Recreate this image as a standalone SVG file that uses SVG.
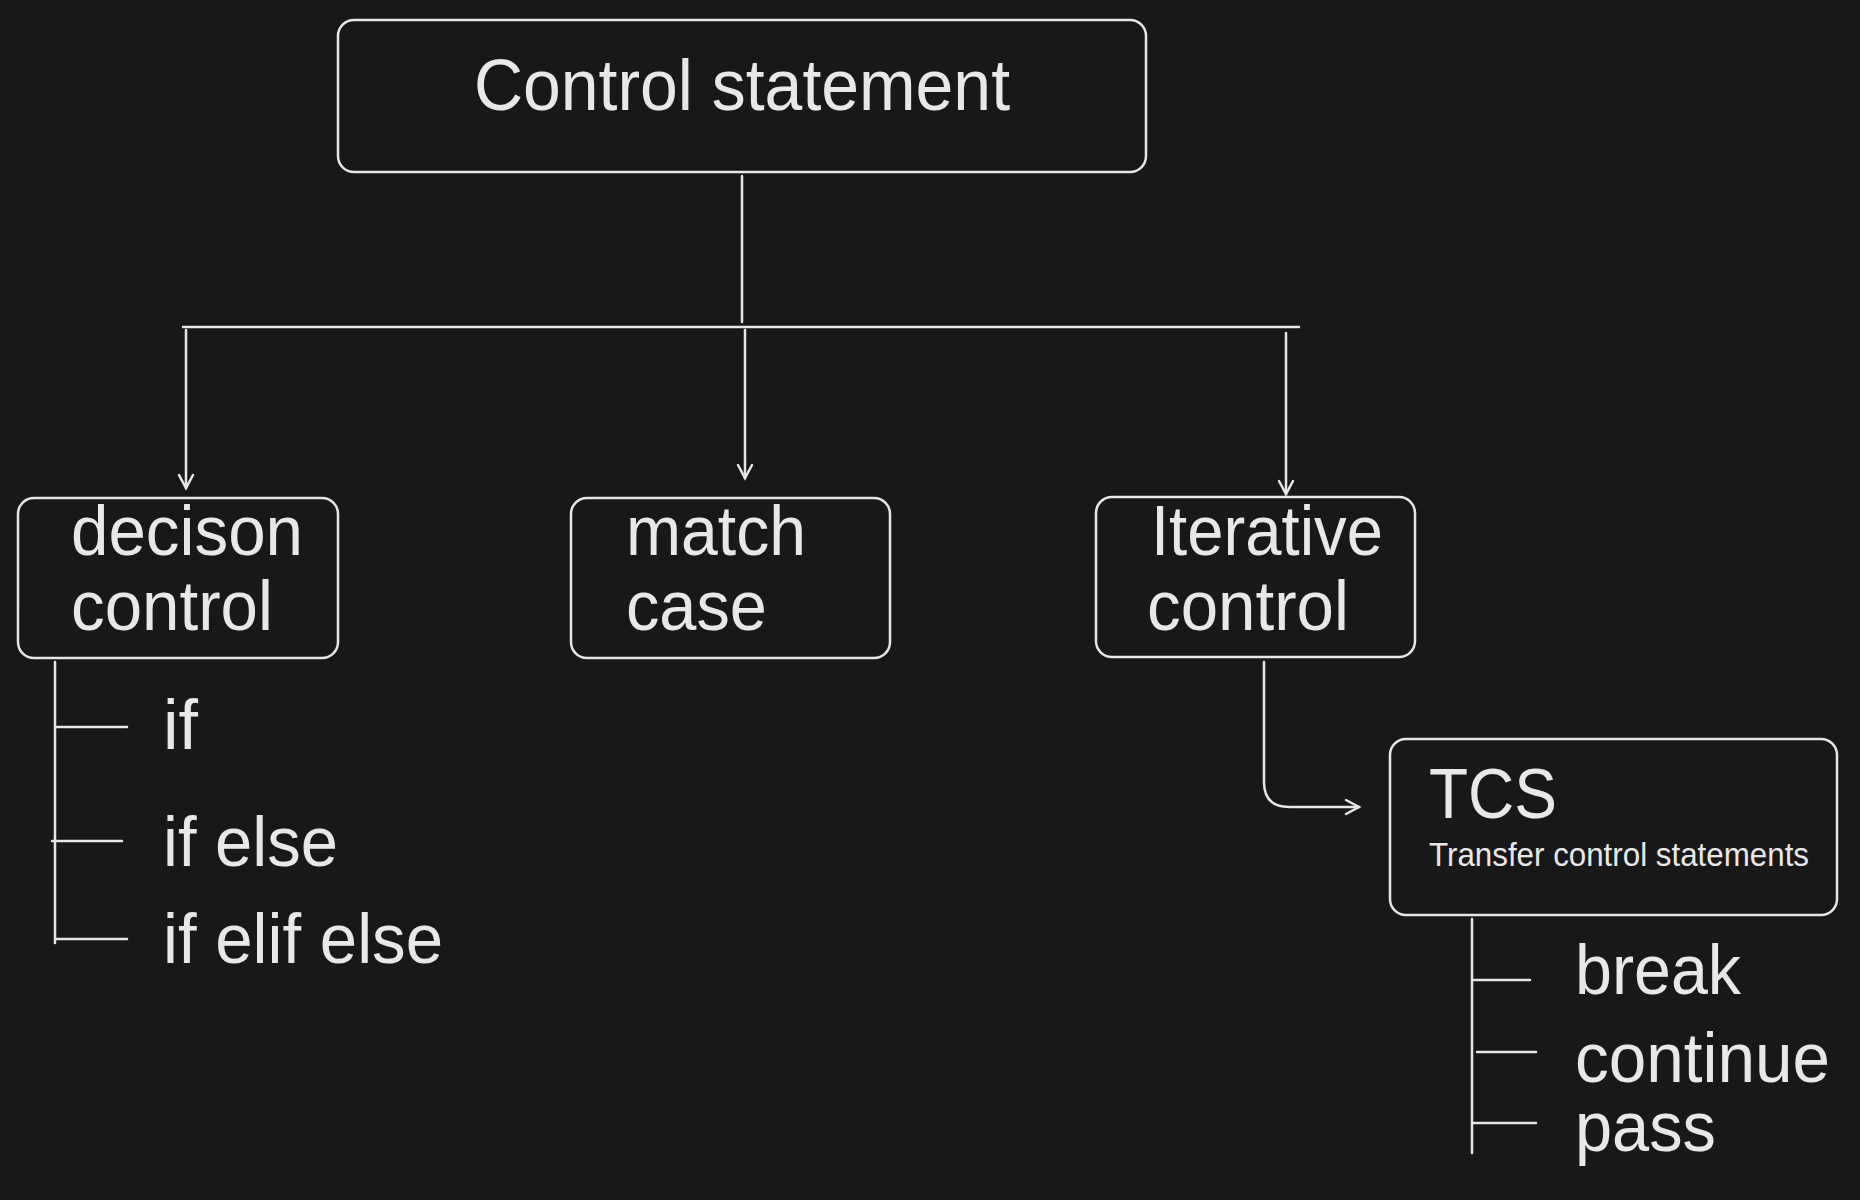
<svg xmlns="http://www.w3.org/2000/svg" width="1860" height="1200" viewBox="0 0 1860 1200">
<style>
.box{fill:none;stroke:#e6e6e6;stroke-width:2.5}
.ln{fill:none;stroke:#e6e6e6;stroke-width:2.5;stroke-linecap:round}
.t{fill:#e8e8e8;font-family:"Liberation Sans",Arial,sans-serif}
.big{font-size:72px}
.mid{font-size:70px}
.sm{font-size:33px}
</style>
<defs>
<marker id="ah" markerWidth="30" markerHeight="30" refX="15" refY="15" orient="auto" markerUnits="userSpaceOnUse">
<path d="M2,8 L15,15 L2,22" fill="none" stroke="#e6e6e6" stroke-width="2.5" stroke-linecap="round"/>
</marker>
</defs>
<rect width="1860" height="1200" fill="#181818"/>
<g id="connectors">
<path class="ln" d="M742,176 V322"/>
<path class="ln" d="M183,327 H1299" stroke-width="3.5"/>
<path class="ln" d="M186,330 V488" marker-end="url(#ah)"/>
<path class="ln" d="M745,330 V478" marker-end="url(#ah)"/>
<path class="ln" d="M1286,333 V494" marker-end="url(#ah)"/>
<path class="ln" d="M1264,662 V782 Q1264,807 1289,807 H1359" marker-end="url(#ah)"/>
<path class="ln" d="M55,662 V943 M55,727 H127 M52,841 H122 M55,939 H127"/>
<path class="ln" d="M1472,919 V1153 M1472,980 H1530 M1477,1052 H1536 M1472,1123 H1536"/>
</g>
<g id="control-statement">
<rect class="box" x="338" y="20" width="808" height="152" rx="16"/>
<text class="t big" x="474" y="110" textLength="536" lengthAdjust="spacingAndGlyphs">Control statement</text>
</g>
<g id="decision-control">
<rect class="box" x="18" y="498" width="320" height="160" rx="16"/>
<text class="t mid" x="71" y="555" textLength="232" lengthAdjust="spacingAndGlyphs">decison</text>
<text class="t mid" x="71" y="630" textLength="202" lengthAdjust="spacingAndGlyphs">control</text>
</g>
<g id="match-case">
<rect class="box" x="571" y="498" width="319" height="160" rx="16"/>
<text class="t mid" x="626" y="555" textLength="180" lengthAdjust="spacingAndGlyphs">match</text>
<text class="t mid" x="626" y="630" textLength="141" lengthAdjust="spacingAndGlyphs">case</text>
</g>
<g id="iterative-control">
<rect class="box" x="1096" y="497" width="319" height="160" rx="16"/>
<text class="t mid" x="1151" y="555" textLength="232" lengthAdjust="spacingAndGlyphs">Iterative</text>
<text class="t mid" x="1147" y="630" textLength="202" lengthAdjust="spacingAndGlyphs">control</text>
</g>
<g id="tcs">
<rect class="box" x="1390" y="739" width="447" height="176" rx="16"/>
<text class="t mid" x="1429" y="818" textLength="128" lengthAdjust="spacingAndGlyphs">TCS</text>
<text class="t sm" x="1429" y="866" textLength="380" lengthAdjust="spacingAndGlyphs">Transfer control statements</text>
</g>
<g id="decision-items">
<text class="t mid" x="163" y="749">if</text>
<text class="t mid" x="163" y="866" textLength="175" lengthAdjust="spacingAndGlyphs">if else</text>
<text class="t mid" x="163" y="963" textLength="280" lengthAdjust="spacingAndGlyphs">if elif else</text>
</g>
<g id="tcs-items">
<text class="t mid" x="1575" y="994" textLength="166" lengthAdjust="spacingAndGlyphs">break</text>
<text class="t mid" x="1575" y="1082" textLength="255" lengthAdjust="spacingAndGlyphs">continue</text>
<text class="t mid" x="1575" y="1151" textLength="141" lengthAdjust="spacingAndGlyphs">pass</text>
</g>
</svg>
